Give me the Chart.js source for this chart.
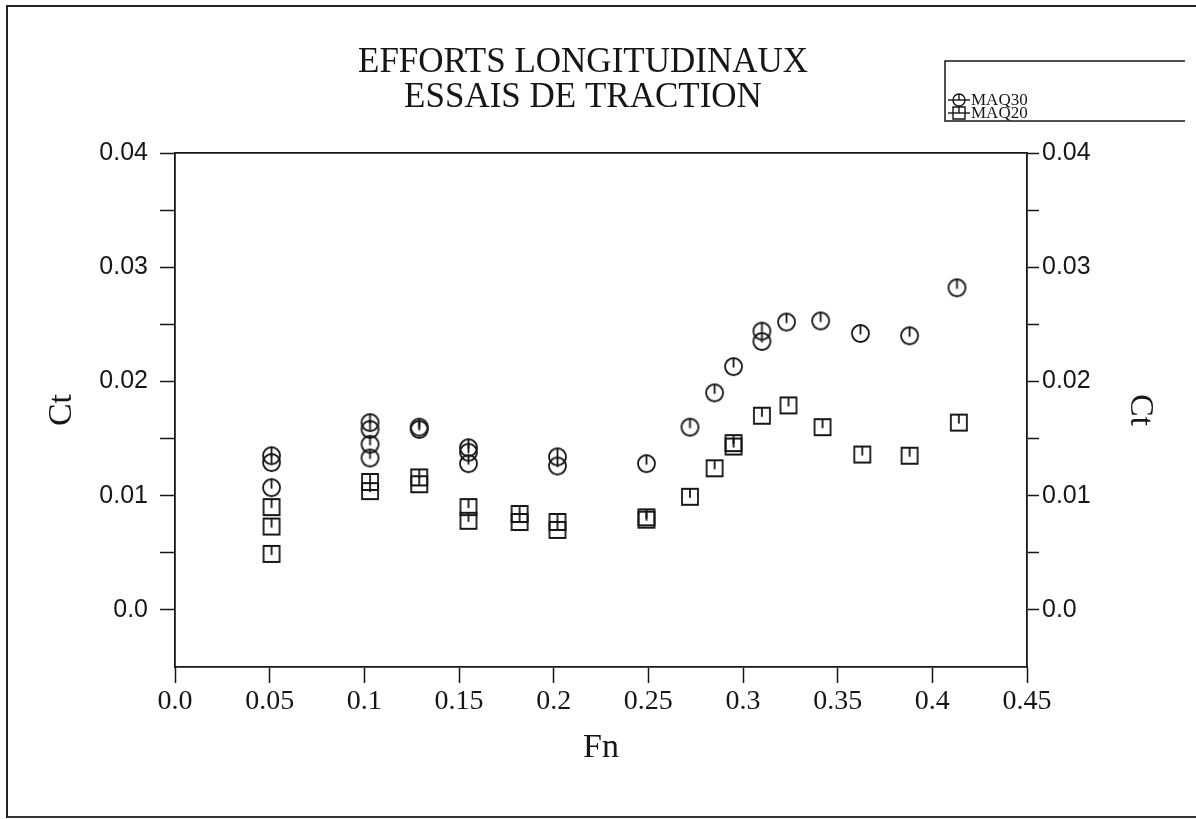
<!DOCTYPE html>
<html>
<head>
<meta charset="utf-8">
<script src="https://cdn.jsdelivr.net/npm/chart.js@4/dist/chart.umd.min.js"></script>
<style>
    body { margin: 0; background: #fff; }
    #wrap { position: relative; width: 1196px; height: 819px; }
    #frame {
        position: absolute; left: 6px; top: 5px; right: 0; bottom: 1px;
        border-left: 2px solid #222; border-top: 2px solid #222; border-bottom: 2px solid #333;
        pointer-events: none;
    }
</style>
</head>
<body>
<div id="wrap">
    <canvas id="myChart" width="1196" height="819"></canvas>
    <div id="frame"></div>
</div>
<script>
// DATA
const titleLines = ['EFFORTS LONGITUDINAUX', 'ESSAIS DE TRACTION'];

const fnMaq30 = [0.051, 0.051, 0.051, 0.103, 0.103, 0.103, 0.103, 0.129, 0.129, 0.155, 0.155, 0.155,
    0.202, 0.202, 0.249, 0.272, 0.285, 0.295, 0.310, 0.310, 0.323, 0.341, 0.362, 0.388, 0.413];
const ctMaq30 = [0.0135, 0.0129, 0.0107, 0.0164, 0.0158, 0.0145, 0.0133, 0.0160, 0.0158, 0.0142, 0.0138, 0.0128,
    0.0134, 0.0126, 0.0128, 0.0160, 0.0190, 0.0213, 0.0244, 0.0235, 0.0252, 0.0253, 0.0242, 0.0240, 0.0282];

const fnMaq20 = [0.051, 0.051, 0.051, 0.103, 0.103, 0.129, 0.129, 0.155, 0.155, 0.182, 0.182, 0.202, 0.202,
    0.249, 0.249, 0.272, 0.285, 0.295, 0.295, 0.310, 0.324, 0.342, 0.363, 0.388, 0.414];
const ctMaq20 = [0.0090, 0.0073, 0.0049, 0.0112, 0.0104, 0.0116, 0.0110, 0.0090, 0.0078, 0.0084, 0.0077, 0.0077, 0.0070,
    0.0081, 0.0079, 0.0099, 0.0124, 0.0146, 0.0143, 0.0170, 0.0179, 0.0160, 0.0136, 0.0135, 0.0164];

const xTicks = [0, 0.05, 0.1, 0.15, 0.2, 0.25, 0.3, 0.35, 0.4, 0.45];
const xTickLabels = ['0.0', '0.05', '0.1', '0.15', '0.2', '0.25', '0.3', '0.35', '0.4', '0.45'];
const yTicks = [0, 0.005, 0.01, 0.015, 0.02, 0.025, 0.03, 0.035, 0.04];
const yTickLabels = ['0.0', '', '0.01', '', '0.02', '', '0.03', '', '0.04'];

const INK = '#161616';

// MARKERS: open circle / open square with the small error bar inside
function makeMark(shape, size) {
    const c = document.createElement('canvas');
    c.width = size + 6;
    c.height = size + 6;
    const g = c.getContext('2d');
    const m = c.width / 2;
    g.strokeStyle = INK;
    g.lineWidth = 1.8;
    g.beginPath();
    if (shape === 'circle') {
        g.arc(m, m, size / 2, 0, Math.PI * 2);
    } else {
        g.rect(m - size / 2, m - size / 2, size, size);
    }
    g.stroke();
    g.beginPath();
    g.moveTo(m, m - size / 2);
    g.lineTo(m, m + 1);
    g.stroke();
    return c;
}

function zip(xs, ys) {
    return xs.map((x, i) => ({ x: x, y: ys[i] }));
}

// TITLE AND LEGEND BOX
const headerPlugin = {
    id: 'header',
    afterDraw(chart) {
        const ctx = chart.ctx;
        ctx.save();
        ctx.fillStyle = INK;
        ctx.textAlign = 'center';
        ctx.textBaseline = 'middle';
        ctx.font = '35px "Liberation Serif", serif';
        titleLines.forEach((t, i) => ctx.fillText(t, 583, 63 + i * 35));

        // legend box (open on the right like the scan)
        ctx.strokeStyle = INK;
        ctx.lineWidth = 1.5;
        ctx.beginPath();
        ctx.moveTo(1185, 61); ctx.lineTo(945, 61); ctx.lineTo(945, 121); ctx.lineTo(1185, 121);
        ctx.stroke();

        ctx.font = '17px "Liberation Serif", serif';
        ctx.textAlign = 'left';
        chart.data.datasets.forEach((ds, i) => {
            const y = 100 + i * 13;
            ctx.lineWidth = 1.4;
            ctx.beginPath();
            ctx.moveTo(948, y); ctx.lineTo(970, y);
            ctx.stroke();
            ctx.beginPath();
            if (ds.legendShape === 'circle') {
                ctx.arc(959, y, 6, 0, Math.PI * 2);
            } else {
                ctx.rect(953, y - 6, 12, 12);
            }
            ctx.moveTo(959, y - 6); ctx.lineTo(959, y);
            ctx.stroke();
            ctx.fillText(ds.label, 971, y + 1);
        });
        ctx.restore();
    }
};

// CREATING CHART
const ctx = document.getElementById('myChart').getContext('2d');

const tickFontY = { family: '"Liberation Sans", Arial, sans-serif', size: 25 };
const tickFontX = { family: '"Liberation Serif", serif', size: 28 };
const axisTitleFont = { family: '"Liberation Serif", serif', size: 34 };

const myChart = new Chart(ctx, {
    type: 'scatter',
    data: {
        datasets: [{
            label: 'MAQ30',
            legendShape: 'circle',
            data: zip(fnMaq30, ctMaq30),
            pointStyle: makeMark('circle', 17),
            borderColor: INK,
            backgroundColor: 'rgba(0,0,0,0)'
        },
        {
            label: 'MAQ20',
            legendShape: 'square',
            data: zip(fnMaq20, ctMaq20),
            pointStyle: makeMark('square', 16),
            borderColor: INK,
            backgroundColor: 'rgba(0,0,0,0)'
        }]
    },
    options: {
        responsive: false,
        animation: false,
        layout: { padding: 0 },
        plugins: {
            legend: { display: false },
            title: { display: false },
            tooltip: { enabled: false }
        },
        scales: {
            x: {
                type: 'linear',
                position: 'bottom',
                min: 0,
                max: 0.45,
                afterBuildTicks: axis => { axis.ticks = xTicks.map(v => ({ value: v })); },
                afterFit: s => { s.height = 152; },
                ticks: {
                    autoSkip: false,
                    maxRotation: 0,
                    padding: 2,
                    color: INK,
                    font: tickFontX,
                    callback: (v, i) => xTickLabels[i]
                },
                grid: { drawOnChartArea: false, tickLength: 16, tickColor: INK, tickWidth: 1.5 },
                border: { color: INK, width: 1.8 },
                title: { display: true, text: 'Fn', color: INK, font: axisTitleFont, padding: { top: 0, bottom: 51 } }
            },
            xTop: {
                type: 'linear',
                position: 'top',
                min: 0,
                max: 0.45,
                afterFit: s => { s.height = 153; },
                ticks: { display: false },
                grid: { drawOnChartArea: false, drawTicks: false },
                border: { color: INK, width: 1.8 }
            },
            y: {
                type: 'linear',
                position: 'left',
                min: -0.005,
                max: 0.04,
                afterBuildTicks: axis => { axis.ticks = yTicks.map(v => ({ value: v })); },
                afterFit: s => { s.width = 175; },
                ticks: {
                    autoSkip: false,
                    padding: 12,
                    color: INK,
                    font: tickFontY,
                    callback: (v, i) => yTickLabels[i]
                },
                grid: { drawOnChartArea: false, tickLength: 15, tickColor: INK, tickWidth: 1.5 },
                border: { color: INK, width: 1.8 },
                title: { display: true, text: 'Ct', color: INK, font: axisTitleFont, padding: { top: 42, bottom: 0 } }
            },
            y2: {
                type: 'linear',
                position: 'right',
                min: -0.005,
                max: 0.04,
                afterBuildTicks: axis => { axis.ticks = yTicks.map(v => ({ value: v })); },
                afterFit: s => { s.width = 169; },
                ticks: {
                    autoSkip: false,
                    padding: 3,
                    color: INK,
                    font: tickFontY,
                    callback: (v, i) => yTickLabels[i]
                },
                grid: { drawOnChartArea: false, tickLength: 12, tickColor: INK, tickWidth: 1.5 },
                border: { color: INK, width: 1.8 },
                title: { display: true, text: 'Ct', color: INK, font: axisTitleFont, padding: { top: 36, bottom: 0 } }
            }
        }
    },
    plugins: [headerPlugin]
});
</script>
</body>
</html>
